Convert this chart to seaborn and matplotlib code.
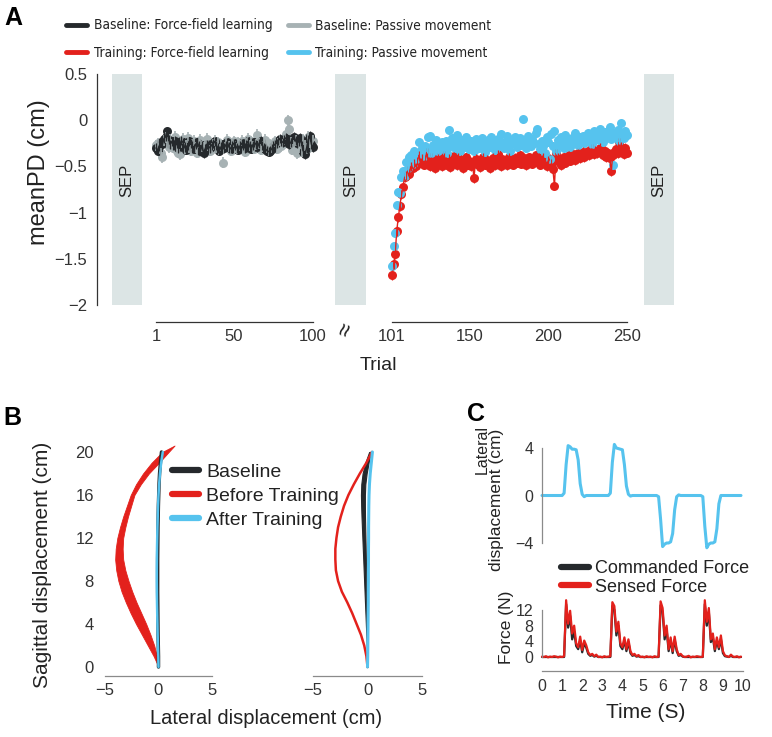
import matplotlib
matplotlib.use("Agg")
import matplotlib.pyplot as plt
import seaborn as sns
import numpy as np
from matplotlib.lines import Line2D
from matplotlib import font_manager

# ---------------- data: panel A (meanPD per trial) ----------------
baseline_trials = np.arange(1, 101)
training_trials = np.arange(101, 251)

baseline_ff = [
    -0.30, -0.33, -0.28, -0.24, -0.26, -0.20, -0.18, -0.12, -0.21, -0.26,
    -0.23, -0.27, -0.22, -0.25, -0.30, -0.28, -0.22, -0.24, -0.29, -0.32,
    -0.27, -0.23, -0.25, -0.28, -0.31, -0.26, -0.24, -0.28, -0.33, -0.27,
    -0.36, -0.31, -0.26, -0.28, -0.30, -0.27, -0.25, -0.23, -0.27, -0.30,
    -0.33, -0.29, -0.26, -0.30, -0.27, -0.24, -0.29, -0.31, -0.28, -0.25,
    -0.27, -0.30, -0.32, -0.28, -0.25, -0.27, -0.30, -0.26, -0.23, -0.28,
    -0.31, -0.27, -0.24, -0.26, -0.29, -0.25, -0.22, -0.27, -0.30, -0.31,
    -0.33, -0.34, -0.33, -0.31, -0.28, -0.26, -0.25, -0.22, -0.20, -0.23,
    -0.24, -0.21, -0.19, -0.22, -0.26, -0.24, -0.20, -0.18, -0.22, -0.25,
    -0.23, -0.19, -0.27, -0.34, -0.37, -0.30, -0.21, -0.17, -0.26, -0.29,
]
baseline_pm = [
    -0.27, -0.25, -0.31, -0.36, -0.40, -0.22, -0.19, -0.24, -0.29, -0.21,
    -0.26, -0.30, -0.18, -0.33, -0.35, -0.37, -0.24, -0.20, -0.31, -0.27,
    -0.19, -0.29, -0.33, -0.26, -0.22, -0.30, -0.35, -0.24, -0.21, -0.28,
    -0.30, -0.25, -0.20, -0.27, -0.33, -0.31, -0.26, -0.22, -0.29, -0.24,
    -0.32, -0.27, -0.46, -0.30, -0.25, -0.21, -0.28, -0.33, -0.26, -0.23,
    -0.29, -0.31, -0.24, -0.27, -0.22, -0.30, -0.34, -0.25, -0.20, -0.27,
    -0.23, -0.29, -0.31, -0.26, -0.16, -0.25, -0.32, -0.28, -0.24, -0.21,
    -0.29, -0.33, -0.26, -0.30, -0.27, -0.23, -0.31, -0.25, -0.22, -0.28,
    -0.26, -0.21, -0.15, 0.00, -0.10, -0.24, -0.32, -0.27, -0.22, -0.36,
    -0.29, -0.25, -0.34, -0.21, -0.27, -0.31, -0.18, -0.24, -0.28, -0.22,
]
training_ff = [
    -1.68, -1.56, -1.45, -1.20, -1.05, -0.93, -0.80, -0.72, -0.62, -0.60,
    -0.55, -0.58, -0.50, -0.52, -0.47, -0.50, -0.44, -0.38, -0.46, -0.42,
    -0.48, -0.43, -0.35, -0.45, -0.50, -0.41, -0.46, -0.52, -0.44, -0.40,
    -0.47, -0.43, -0.50, -0.38, -0.45, -0.48, -0.42, -0.51, -0.44, -0.39,
    -0.46, -0.49, -0.41, -0.47, -0.43, -0.52, -0.45, -0.40, -0.48, -0.44,
    -0.50, -0.46, -0.63, -0.42, -0.47, -0.44, -0.51, -0.45, -0.40, -0.48,
    -0.43, -0.47, -0.52, -0.45, -0.41, -0.49, -0.44, -0.37, -0.46, -0.50,
    -0.42, -0.47, -0.44, -0.49, -0.40, -0.45, -0.43, -0.48, -0.41, -0.46,
    -0.44, -0.38, -0.47, -0.43, -0.41, -0.49, -0.45, -0.40, -0.44, -0.47,
    -0.42, -0.38, -0.45, -0.41, -0.48, -0.43, -0.40, -0.46, -0.50, -0.44,
    -0.42, -0.47, -0.53, -0.71, -0.36, -0.41, -0.45, -0.49, -0.43, -0.40,
    -0.46, -0.42, -0.38, -0.44, -0.40, -0.37, -0.43, -0.39, -0.35, -0.41,
    -0.38, -0.34, -0.40, -0.36, -0.33, -0.38, -0.35, -0.31, -0.37, -0.33,
    -0.36, -0.32, -0.30, -0.35, -0.38, -0.33, -0.40, -0.36, -0.41, -0.55,
    -0.38, -0.34, -0.31, -0.36, -0.24, -0.29, -0.33, -0.37, -0.30, -0.35,
]
training_pm = [
    -1.58, -1.36, -1.22, -0.92, -0.78, -0.79, -0.62, -0.55, -0.60, -0.45,
    -0.52, -0.40, -0.38, -0.47, -0.33, -0.42, -0.36, -0.24, -0.35, -0.30,
    -0.39, -0.28, -0.32, -0.18, -0.17, -0.36, -0.27, -0.30, -0.21, -0.33,
    -0.26, -0.29, -0.24, -0.31, -0.22, -0.35, -0.11, -0.28, -0.19, -0.25,
    -0.30, -0.16, -0.27, -0.33, -0.21, -0.25, -0.29, -0.18, -0.24, -0.31,
    -0.22, -0.27, -0.33, -0.20, -0.26, -0.30, -0.23, -0.19, -0.28, -0.34,
    -0.25, -0.21, -0.29, -0.18, -0.27, -0.32, -0.24, -0.20, -0.28, -0.15,
    -0.26, -0.30, -0.22, -0.17, -0.27, -0.33, -0.21, -0.25, -0.18, -0.29,
    -0.23, -0.19, -0.27, 0.01, -0.24, -0.30, -0.17, -0.22, -0.28, -0.20,
    -0.25, -0.14, -0.09, -0.26, -0.31, -0.22, -0.28, -0.35, -0.18, -0.24,
    -0.42, -0.15, -0.28, -0.12, -0.33, -0.21, -0.27, -0.18, -0.24, -0.30,
    -0.16, -0.26, -0.22, -0.29, -0.19, -0.24, -0.14, -0.21, -0.27, -0.18,
    -0.23, -0.17, -0.25, -0.20, -0.14, -0.22, -0.18, -0.26, -0.12, -0.19,
    -0.15, -0.21, -0.09, -0.17, -0.24, -0.13, -0.19, -0.16, -0.07, -0.20,
    -0.48, -0.14, -0.18, -0.11, -0.22, -0.03, -0.15, -0.19, -0.12, -0.16,
]
baseline_ff_sem = 0.05
baseline_pm_sem = 0.06
training_ff_sem = 0.05
training_pm_sem = 0.04

# ---------------- data: panel B (hand paths) ----------------
path_y = [0, 1, 2, 3, 4, 5, 6, 7, 8, 9, 10, 11, 12, 13, 14, 15, 16, 17, 18, 19, 20]
b1_red_y = [0, 1, 2, 3, 4, 5, 6, 7, 8, 9, 10, 11, 12, 13, 14, 15, 16, 17, 18, 19, 20, 20.6]
b1_red_left = [0.0, -0.45, -1.0, -1.55, -2.1, -2.6, -3.05, -3.45, -3.75, -3.95, -4.05,
               -4.0, -3.85, -3.6, -3.3, -2.95, -2.6, -2.1, -1.45, -0.65, 0.35, 1.5]
b1_red_right = [0.0, -0.15, -0.4, -0.75, -1.15, -1.6, -2.05, -2.45, -2.8, -3.1, -3.3,
                -3.35, -3.3, -3.1, -2.85, -2.55, -2.25, -1.65, -0.9, 0.05, 0.95, 1.5]
b1_black = [0.0, 0.0, -0.02, -0.04, -0.05, -0.06, -0.07, -0.08, -0.08, -0.08, -0.08,
            -0.07, -0.06, -0.05, -0.03, -0.01, 0.02, 0.05, 0.1, 0.18, 0.28]
b1_blue = [0.0, -0.02, -0.05, -0.08, -0.1, -0.12, -0.14, -0.15, -0.16, -0.16, -0.15,
           -0.14, -0.12, -0.1, -0.07, -0.04, 0.0, 0.06, 0.14, 0.25, 0.4]
b2_red = [0.0, -0.1, -0.3, -0.6, -1.0, -1.4, -1.85, -2.35, -2.7, -2.9, -2.95,
          -2.95, -2.85, -2.7, -2.45, -2.15, -1.75, -1.25, -0.7, -0.1, 0.4]
b2_black_left = [0.0, -0.03, -0.07, -0.11, -0.15, -0.19, -0.23, -0.27, -0.31, -0.35, -0.39,
                 -0.43, -0.47, -0.51, -0.55, -0.58, -0.6, -0.57, -0.45, -0.2, 0.15]
b2_black_right = [0.0, 0.0, -0.01, -0.02, -0.04, -0.05, -0.07, -0.09, -0.11, -0.13, -0.15,
                  -0.17, -0.19, -0.21, -0.23, -0.24, -0.24, -0.2, -0.08, 0.1, 0.3]
b2_blue = [0.0, 0.02, 0.03, 0.04, 0.05, 0.06, 0.07, 0.07, 0.08, 0.08, 0.09,
           0.09, 0.1, 0.1, 0.11, 0.12, 0.14, 0.18, 0.25, 0.35, 0.45]

# ---------------- data: panel C (robot traces, 0.1 s steps) ----------------
time_s = np.arange(0, 10, 0.1)
lateral_disp = [
    0.0, 0.0, 0.0, 0.0, 0.0, 0.0, 0.0, 0.0, 0.0, 0.0,
    0.0, 0.2, 2.6, 4.2, 4.1, 3.9, 3.9, 3.85, 3.0, 1.0,
    0.1, -0.1, 0.0, 0.0, 0.0, 0.0, 0.0, 0.0, 0.0, 0.0,
    0.0, 0.0, 0.0, 0.0, 0.2, 2.8, 4.3, 4.0, 3.95, 3.9,
    3.85, 2.6, 0.8, 0.1, -0.05, 0.0, 0.0, 0.0, 0.0, 0.0,
    0.0, 0.0, 0.0, 0.0, 0.0, 0.0, 0.0, 0.0, -0.1, -2.0,
    -4.3, -4.1, -4.0, -4.0, -3.9, -3.2, -1.2, -0.1, 0.05, 0.0,
    0.0, 0.0, 0.0, 0.0, 0.0, 0.0, 0.0, 0.0, 0.0, 0.0,
    -0.1, -2.6, -4.4, -4.1, -4.0, -4.0, -3.9, -2.8, -0.7, 0.0,
    0.0, 0.0, 0.0, 0.0, 0.0, 0.0, 0.0, 0.0, 0.0, 0.0,
]
sensed_force = [
    0.1, 0.0, 0.2, -0.1, 0.1, 0.0, 0.2, 0.1, -0.1, 0.1,
    0.0, 0.2, 14.5, 8.5, 11.8, 6.0, 8.0, 3.5, 2.5, 5.2,
    1.8, 4.2, 3.0, 1.2, 0.5, 0.8, 0.2, 0.6, 0.0, 0.1,
    -0.1, 0.2, 0.0, 0.1, 0.2, 14.0, 13.0, 6.5, 9.0, 3.5,
    2.5, 5.0, 2.0, 4.5, 1.5, 0.5, 0.8, 0.2, 0.5, 0.0,
    0.1, -0.1, 0.2, 0.0, 0.1, -0.1, 0.2, 0.0, 0.1, 14.2,
    12.5, 5.5, 8.0, 2.0, 5.0, 1.5, 5.2, 2.0, 0.5, 0.8,
    0.2, 0.0, 0.1, 0.3, -0.1, 0.1, 0.0, 0.2, 0.1, 0.0,
    0.1, 14.5, 9.0, 12.5, 4.5, 6.0, 2.0, 5.0, 2.5, 5.5,
    1.5, 0.4, 0.2, 0.0, 0.6, 0.1, 0.0, 0.2, -0.1, 0.1,
]
commanded_force = [
    0.0, 0.0, 0.0, 0.0, 0.0, 0.0, 0.0, 0.0, 0.0, 0.0,
    0.0, 0.0, 13.5, 7.5, 10.5, 4.5, 6.5, 2.8, 2.0, 4.2,
    1.2, 3.5, 2.4, 0.8, 0.3, 0.5, 0.1, 0.3, 0.0, 0.0,
    0.0, 0.0, 0.0, 0.0, 0.0, 13.0, 12.0, 5.5, 8.0, 2.8,
    2.0, 4.2, 1.5, 3.8, 1.0, 0.3, 0.5, 0.1, 0.2, 0.0,
    0.0, 0.0, 0.0, 0.0, 0.0, 0.0, 0.0, 0.0, 0.0, 13.2,
    11.5, 4.5, 7.0, 1.5, 4.2, 1.0, 4.4, 1.5, 0.3, 0.5,
    0.1, 0.0, 0.0, 0.0, 0.0, 0.0, 0.0, 0.0, 0.0, 0.0,
    0.0, 13.5, 8.0, 11.5, 3.8, 5.0, 1.5, 4.2, 2.0, 4.6,
    1.0, 0.2, 0.1, 0.0, 0.3, 0.0, 0.0, 0.0, 0.0, 0.0,
]

# ---------------- style ----------------
BLACK = '#25292c'
GRAY = '#a7b2b4'
RED = '#e3211c'
BLUE = '#56c3ee'
SEP_COLOR = '#dce5e5'
AXIS_DARK = '#333333'
AXIS_GRAY = '#8a8a8a'
TEXT = '#222222'

sns.set_style("white")
plt.rcParams['font.family'] = ['Liberation Sans', 'DejaVu Sans']
plt.rcParams['text.color'] = TEXT
plt.rcParams['xtick.color'] = AXIS_DARK
plt.rcParams['ytick.color'] = AXIS_DARK

# panel A legend uses a condensed face when one is installed
legA_prop = font_manager.FontProperties(family='Liberation Sans', size=10)
for f in font_manager.fontManager.ttflist:
    fn = f.fname.lower()
    if (f.name == 'Liberation Sans Narrow' or 'condensed' in fn) and 'bold' not in fn \
            and 'oblique' not in fn and 'italic' not in fn and 'mono' not in fn \
            and 'serif' not in fn.replace('sans', ''):
        size = 11.5 if f.name == 'Liberation Sans Narrow' else 9.8
        legA_prop = font_manager.FontProperties(fname=f.fname, size=size)
        break

W, H = 772, 737
fig = plt.figure(figsize=(W / 100, H / 100), dpi=100)


def box(l, t, r, b):
    return [l / W, 1 - b / H, (r - l) / W, (b - t) / H]


def ftext(x, y, s, **kw):
    kw.setdefault('ha', 'center')
    kw.setdefault('va', 'center')
    fig.text(x / W, 1 - y / H, s, **kw)


def clean(ax, keep=()):
    for side in ['top', 'right', 'bottom', 'left']:
        ax.spines[side].set_visible(side in keep)
    ax.patch.set_alpha(0)


# ---------------- panel A ----------------
axA = fig.add_axes(box(97, 74, 680, 305))
clean(axA, keep=('left',))
axA.set_xlim(0, 1)
axA.set_ylim(-2, 0.5)
axA.spines['left'].set_color(AXIS_DARK)
axA.spines['left'].set_linewidth(0.9)
axA.set_xticks([])
axA.set_yticks([0.5, 0, -0.5, -1, -1.5, -2])
axA.set_yticklabels(['0.5', '0', '\u22120.5', '\u22121', '\u22121.5', '\u22122'])
axA.tick_params(axis='y', direction='in', length=4, width=0.9, labelsize=12, pad=7)
for x0, x1 in [(0.026, 0.077), (0.408, 0.461), (0.938, 0.990)]:
    axA.axvspan(x0, x1, color=SEP_COLOR, lw=0)
    axA.text((x0 + x1) / 2, -0.65, 'SEP', rotation=90, ha='center', va='center',
             fontsize=12, color=TEXT)

axA1 = fig.add_axes(box(156, 74, 313, 305))
axA2 = fig.add_axes(box(392, 74, 627, 305))
for ax, lo, hi, ticks in [(axA1, 1, 100, [1, 50, 100]), (axA2, 101, 250, [101, 150, 200, 250])]:
    clean(ax, keep=('bottom',))
    ax.set_xlim(lo, hi)
    ax.set_ylim(-2, 0.5)
    ax.set_yticks([])
    ax.spines['bottom'].set_position(('outward', 12.2))
    ax.spines['bottom'].set_bounds(lo, hi)
    ax.spines['bottom'].set_color(AXIS_DARK)
    ax.spines['bottom'].set_linewidth(0.9)
    ax.set_xticks(ticks)
    ax.tick_params(axis='x', direction='in', length=4, width=0.9, labelsize=12, pad=5)

# baseline: passive (gray) under force-field (black)
axA1.errorbar(baseline_trials, baseline_pm, yerr=baseline_pm_sem, fmt='none',
              ecolor=GRAY, elinewidth=1.2, clip_on=False)
sns.scatterplot(x=baseline_trials, y=baseline_pm, ax=axA1, color=GRAY, s=42,
                linewidth=0, clip_on=False)
axA1.errorbar(baseline_trials, baseline_ff, yerr=baseline_ff_sem, fmt='none',
              ecolor=BLACK, elinewidth=0.9, clip_on=False)
sns.lineplot(x=baseline_trials, y=baseline_ff, ax=axA1, color=BLACK, lw=1.1,
             estimator=None, clip_on=False)
sns.scatterplot(x=baseline_trials, y=baseline_ff, ax=axA1, color=BLACK, s=42,
                linewidth=0, clip_on=False)

# training: force-field (red) under passive (blue)
axA2.errorbar(training_trials, training_ff, yerr=training_ff_sem, fmt='none',
              ecolor=RED, elinewidth=0.9, clip_on=False)
sns.lineplot(x=training_trials, y=training_ff, ax=axA2, color=RED, lw=1.0,
             estimator=None, clip_on=False)
sns.scatterplot(x=training_trials, y=training_ff, ax=axA2, color=RED, s=42,
                linewidth=0, clip_on=False)
axA2.errorbar(training_trials, training_pm, yerr=training_pm_sem, fmt='none',
              ecolor=BLUE, elinewidth=0.8, clip_on=False)
sns.scatterplot(x=training_trials, y=training_pm, ax=axA2, color=BLUE, s=42,
                linewidth=0, clip_on=False)
for ax in (axA1, axA2):
    ax.set_xlabel('')
    ax.set_ylabel('')

ftext(39, 172, 'meanPD (cm)', rotation=90, fontsize=17)
ftext(378, 366, 'Trial', fontsize=14)
ftext(347, 330, '\u2248', rotation=70, fontsize=17)
ftext(13, 18, 'A', fontsize=18, fontweight='bold', color='black')

legA_handles = [Line2D([], [], color=c, lw=3.5) for c in (BLACK, RED, GRAY, BLUE)]
legA_labels = ['Baseline: Force-field learning', 'Training: Force-field learning',
               'Baseline: Passive movement', 'Training: Passive movement']
fig.legend(legA_handles, legA_labels, ncol=2, loc='upper left',
           bbox_to_anchor=(66 / W, 1 - 18.5 / H), frameon=False,
           prop=legA_prop, handlelength=1.55, handletextpad=0.5,
           columnspacing=1.1, labelspacing=1.0, borderpad=0, borderaxespad=0)

# ---------------- panel B ----------------
axB1 = fig.add_axes(box(105, 452, 212, 667))
axB2 = fig.add_axes(box(313, 452, 422, 667))
for ax in (axB1, axB2):
    clean(ax, keep=('bottom',))
    ax.set_xlim(-5, 5)
    ax.set_ylim(0, 20)
    ax.spines['bottom'].set_position(('outward', 6.5))
    ax.spines['bottom'].set_color(AXIS_GRAY)
    ax.spines['bottom'].set_linewidth(0.9)
    ax.set_xticks([-5, 0, 5])
    ax.set_xticklabels(['\u22125', '0', '5'])
    ax.tick_params(axis='x', direction='in', length=4, width=0.9, color=AXIS_GRAY,
                   labelsize=12, pad=5)
axB1.set_yticks([0, 4, 8, 12, 16, 20])
axB1.tick_params(axis='y', direction='out', length=5, width=0.9, color=AXIS_GRAY,
                 labelsize=12, pad=3)
axB2.set_yticks([])

axB1.fill_betweenx(b1_red_y, b1_red_left, b1_red_right, color=RED, lw=0.6,
                   edgecolor=RED, clip_on=False)
sns.lineplot(x=b1_black, y=path_y, ax=axB1, color=BLACK, lw=2.5, sort=False,
             estimator=None, clip_on=False)
sns.lineplot(x=b1_blue, y=path_y, ax=axB1, color=BLUE, lw=1.8, sort=False,
             estimator=None, clip_on=False)

axB2.fill_betweenx(path_y, b2_black_left, b2_black_right, color=BLACK, lw=0.8,
                   edgecolor=BLACK, clip_on=False)
sns.lineplot(x=b2_red, y=path_y, ax=axB2, color=RED, lw=1.8, sort=False,
             estimator=None, clip_on=False)
sns.lineplot(x=b2_blue, y=path_y, ax=axB2, color=BLUE, lw=2.2, sort=False,
             estimator=None, clip_on=False)
for ax in (axB1, axB2):
    ax.set_xlabel('')
    ax.set_ylabel('')

ftext(266, 718, 'Lateral displacement (cm)', fontsize=14.5)
ftext(43, 565, 'Sagittal displacement (cm)', rotation=90, fontsize=15)
ftext(12, 418, 'B', fontsize=18, fontweight='bold', color='black')

legB_handles = [Line2D([], [], color=c, lw=4.5) for c in (BLACK, RED, BLUE)]
fig.legend(legB_handles, ['Baseline', 'Before Training', 'After Training'],
           loc='upper left', bbox_to_anchor=(172 / W, 1 - 463 / H), frameon=False,
           prop={'size': 14}, handlelength=1.4, handletextpad=0.35,
           labelspacing=0.33, borderpad=0, borderaxespad=0)

# ---------------- panel C ----------------
axC1 = fig.add_axes(box(542, 448, 743, 543))
clean(axC1, keep=('left',))
axC1.set_xlim(0, 10)
axC1.set_ylim(-4, 4)
axC1.set_xticks([])
axC1.set_yticks([-4, 0, 4])
axC1.set_yticklabels(['\u22124', '0', '4'])
axC1.spines['left'].set_color(AXIS_GRAY)
axC1.spines['left'].set_linewidth(0.9)
axC1.tick_params(axis='y', direction='in', length=4, width=0.9, color=AXIS_GRAY,
                 labelsize=11.5, pad=6)
sns.lineplot(x=time_s, y=lateral_disp, ax=axC1, color=BLUE, lw=2.2,
             estimator=None, clip_on=False)
axC1.set_xlabel('')
axC1.set_ylabel('')

axC2 = fig.add_axes(box(542, 610, 743, 657))
clean(axC2, keep=('left', 'bottom'))
axC2.set_xlim(0, 10)
axC2.set_ylim(0, 12)
axC2.set_yticks([0, 4, 8, 12])
axC2.set_xticks(range(0, 11))
axC2.spines['left'].set_bounds(0, 12)
axC2.spines['bottom'].set_position(('outward', 10))
for side in ('left', 'bottom'):
    axC2.spines[side].set_color(AXIS_GRAY)
    axC2.spines[side].set_linewidth(0.9)
axC2.tick_params(axis='both', direction='in', length=4, width=0.9, color=AXIS_GRAY,
                 labelsize=11.5)
axC2.tick_params(axis='y', pad=6)
axC2.tick_params(axis='x', pad=6)
sns.lineplot(x=time_s, y=commanded_force, ax=axC2, color=BLACK, lw=1.6,
             estimator=None, clip_on=False)
sns.lineplot(x=time_s, y=sensed_force, ax=axC2, color=RED, lw=1.6,
             estimator=None, clip_on=False)
axC2.set_xlabel('')
axC2.set_ylabel('')

ftext(482, 449, 'Lateral', rotation=90, fontsize=11.5)
ftext(497, 500, 'displacement (cm)', rotation=90, fontsize=12.5)
ftext(506, 627, 'Force (N)', rotation=90, fontsize=12.5)
ftext(646, 712, 'Time (S)', fontsize=15)
ftext(476, 414, 'C', fontsize=18, fontweight='bold', color='black')

legC_handles = [Line2D([], [], color=c, lw=4.5) for c in (BLACK, RED)]
fig.legend(legC_handles, ['Commanded Force', 'Sensed Force'],
           loc='upper left', bbox_to_anchor=(561 / W, 1 - 560 / H), frameon=False,
           prop={'size': 13}, handlelength=1.55, handletextpad=0.35,
           labelspacing=0.1, borderpad=0, borderaxespad=0)

fig.savefig('out.png', dpi=100)
